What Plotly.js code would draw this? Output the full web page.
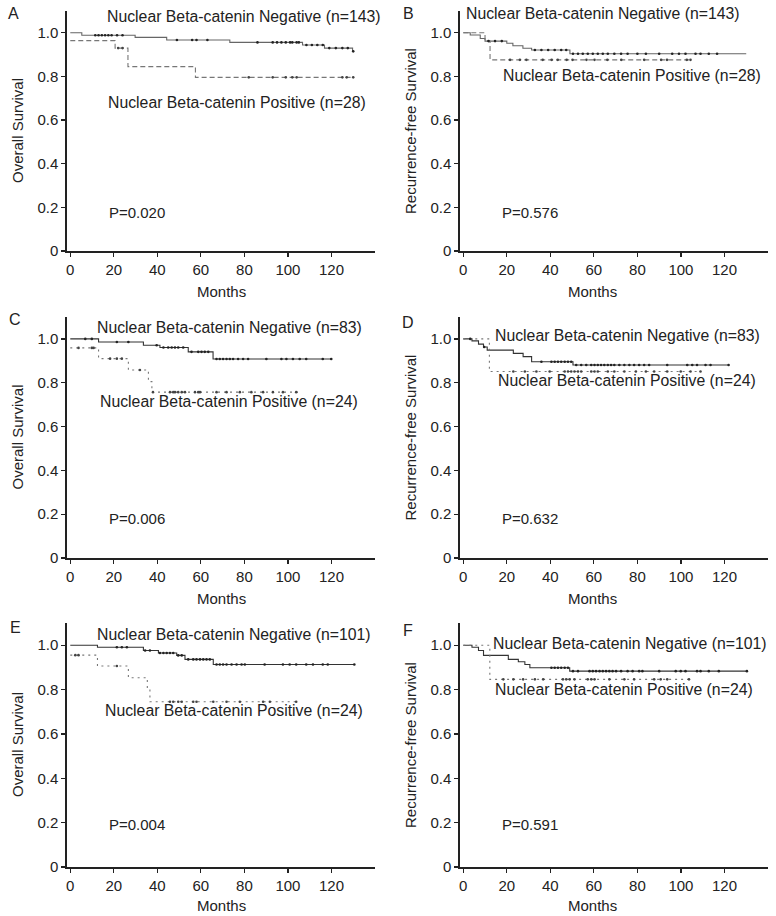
<!DOCTYPE html>
<html>
<head>
<meta charset="utf-8">
<script src="https://cdn.plot.ly/plotly-3.0.1.min.js"></script>
<style>
  body { margin: 0; background: #fff; }
  #chart { width: 776px; height: 916px; }
</style>
</head>
<body>
<div id="chart"></div>
<script>
// step curves: time of each step (months) and survival after it
let aNegT = [0, 5.3, 29.8, 44.3, 73.3, 106.7, 116.8, 129.7, 130];
let aNegS = [1, 0.989, 0.979, 0.967, 0.956, 0.944, 0.930, 0.915, 0.915];
let aPosT = [0, 20.6, 26.5, 57.5, 130];
let aPosS = [0.964, 0.930, 0.845, 0.796, 0.796];
let aNegC = [11.5, 13, 14.5, 16, 17.5, 19, 21.5, 24, 49, 56, 58, 63, 86, 93, 95, 97, 99, 101, 102, 104, 105, 108.5, 111, 113.5, 116, 119, 122, 125, 127.5, 130];
let aPosC = [22, 24, 82, 93, 99, 102, 104, 125, 127, 130];

let bNegT = [0, 3.2, 7.8, 10, 20, 22.8, 27.4, 31.4, 49, 130];
let bNegS = [1, 0.990, 0.974, 0.962, 0.952, 0.941, 0.929, 0.921, 0.904, 0.904];
let bPosT = [0, 10, 12.3, 104.4];
let bPosS = [1, 0.962, 0.876, 0.876];
let bNegC = [11.6, 14.6, 17.7, 32.9, 35.9, 39, 42, 45, 47.3, 50.4, 52.7, 54.9, 57.2, 59.5, 61.8, 64.1, 66.4, 69.4, 72.5, 75.5, 80, 83.9, 90, 96, 99.1, 102.1, 106.7, 109, 112.8, 116.6];
let bPosC = [21.5, 26, 29, 36.5, 40.6, 43.4, 47.5, 50.2, 56.6, 60.3, 66.2, 72.6, 83.1, 90.9, 93.6, 102.7, 104.4];

let cNegT = [0, 13, 33.6, 41.2, 54.2, 65.6, 120];
let cNegS = [1, 0.986, 0.971, 0.961, 0.941, 0.908, 0.908];
let cPosT = [0, 13, 26.7, 35.9, 37.5, 104.6];
let cPosS = [0.959, 0.910, 0.858, 0.805, 0.757, 0.757];
let cNegC = [6.9, 9.9, 21.4, 26.7, 39.7, 42.8, 45, 46.6, 48.1, 49.6, 51.9, 55.7, 58.8, 60.3, 61.8, 63.4, 67.2, 68.7, 70.2, 71.8, 73.3, 74.8, 77.1, 79.4, 81.7, 90.1, 97, 99.3, 102.3, 105.4, 108.4, 116, 119.9];
let cPosC = [3.8, 9.9, 10.7, 18.3, 21.4, 23.7, 32, 38, 45.8, 47.3, 48.1, 49.6, 51.2, 52.7, 57.3, 58.8, 59.6, 67.2, 71.8, 77.9, 83.2, 88.6, 93.1, 97.7, 103.8];

let dNegT = [0, 4, 7, 9.3, 11, 23, 27.5, 31.4, 50.4, 122];
let dNegS = [1, 0.991, 0.976, 0.963, 0.949, 0.934, 0.919, 0.896, 0.881, 0.881];
let dPosT = [0, 12, 109];
let dPosS = [1, 0.851, 0.851];
let dNegC = [3.2, 9.6, 35.9, 40.5, 42, 43.5, 45, 46.6, 48.1, 49.6, 51.9, 54.2, 56.5, 58.8, 60.3, 61.8, 63.3, 64.8, 66.4, 67.9, 69.4, 71.7, 74, 76.3, 78.5, 80.8, 83.1, 85.4, 93.7, 102.9, 105.2, 107.4, 111.3, 113.6, 121.9];
let dPosC = [23, 28.3, 33.6, 39.7, 46.6, 48.1, 49.6, 51.1, 52.7, 54.2, 58.8, 60.3, 61.8, 66.4, 69.4, 74, 79.3, 83.9, 87.7, 93.7, 99.9, 104.4, 109];

let eNegT = [0, 12.5, 33.6, 40.5, 48.9, 52.7, 65.7, 130.5];
let eNegS = [1, 0.991, 0.976, 0.965, 0.954, 0.936, 0.913, 0.913];
let ePosT = [0, 12.5, 26.7, 35.4, 36.6, 103.8];
let ePosS = [0.955, 0.906, 0.853, 0.801, 0.745, 0.745];
let eNegC = [21.4, 23.7, 26, 34.4, 36.6, 41.2, 42.8, 44.3, 45.8, 47.3, 49.6, 51.2, 54.2, 56.5, 58, 59.6, 61.1, 62.6, 64.1, 67.2, 68.7, 70.2, 71.8, 74.1, 76.4, 78.7, 80.2, 89.3, 97.7, 100.8, 103.8, 108.4, 111.5, 116, 118.3, 130.5];
let ePosC = [2.3, 3.8, 21.4, 45.8, 47.3, 49.6, 51.2, 56.5, 58, 65.7, 71.8, 77.9, 88.6, 91.7, 103.8];

let fNegT = [0, 4, 7, 9.3, 20.7, 25.3, 28.3, 30.6, 48.9, 130.3];
let fNegS = [1, 0.991, 0.976, 0.954, 0.936, 0.925, 0.913, 0.898, 0.883, 0.883];
let fPosT = [0, 12.2, 104];
let fPosS = [1, 0.846, 0.846];
let fNegC = [40.5, 42, 43.5, 45, 46.6, 48.1, 50.4, 52.7, 58, 59.5, 61, 62.6, 64.1, 65.6, 67.1, 68.6, 70.2, 72.5, 75.5, 77.8, 80.8, 82.3, 90, 97.6, 99.9, 102.1, 107.4, 109, 112.8, 117.4, 130.3];
let fPosC = [18.4, 23, 27.5, 32.9, 36.7, 45.8, 47.3, 48.9, 51.1, 57.2, 58.8, 60.3, 67.1, 74, 78.5, 87.7, 90.7, 93.7, 103.7];

let panelLetters = ['A', 'B', 'C', 'D', 'E', 'F'];
let yTitles = ['Overall Survival', 'Recurrence-free Survival', 'Overall Survival', 'Recurrence-free Survival', 'Overall Survival', 'Recurrence-free Survival'];
let negLabels = ['Nuclear Beta-catenin Negative (n=143)', 'Nuclear Beta-catenin Negative (n=143)', 'Nuclear Beta-catenin Negative (n=83)', 'Nuclear Beta-catenin Negative (n=83)', 'Nuclear Beta-catenin Negative (n=101)', 'Nuclear Beta-catenin Negative (n=101)'];
let posLabels = ['Nuclear Beta-catenin Positive (n=28)', 'Nuclear Beta-catenin Positive (n=28)', 'Nuclear Beta-catenin Positive (n=24)', 'Nuclear Beta-catenin Positive (n=24)', 'Nuclear Beta-catenin Positive (n=24)', 'Nuclear Beta-catenin Positive (n=24)'];
let pValues = ['P=0.020', 'P=0.576', 'P=0.006', 'P=0.632', 'P=0.004', 'P=0.591'];
let xTicks = [0, 20, 40, 60, 80, 100, 120];
let yTicks = [0, 0.2, 0.4, 0.6, 0.8, 1.0];
let yTickText = ['0', '0.2', '0.4', '0.6', '0.8', '1.0'];

let curves = [
    [aNegT, aNegS, aNegC, aPosT, aPosS, aPosC],
    [bNegT, bNegS, bNegC, bPosT, bPosS, bPosC],
    [cNegT, cNegS, cNegC, cPosT, cPosS, cPosC],
    [dNegT, dNegS, dNegC, dPosT, dPosS, dPosC],
    [eNegT, eNegS, eNegC, ePosT, ePosS, ePosC],
    [fNegT, fNegS, fNegC, fPosT, fPosS, fPosC]
];

// survival at time t from a step curve
function stepAt(T, S, t) {
    let v = S[0];
    for (let i = 0; i < T.length; i++) {
        if (T[i] <= t) v = S[i];
    }
    return v;
}

const W = 776, H = 916;
let fx = p => p / W;
let fy = p => 1 - p / H;

// pixel boxes of each plot area: left, right / top, bottom
let colsPx = [[67, 375], [460, 768]];
let rowsPx = [[11, 251], [317, 558], [623, 867]];

let fontFam = 'Liberation Sans, Arial, sans-serif';
let textCol = '#222';

let data = [];
let layout = {
    width: W, height: H,
    margin: { l: 0, r: 0, t: 0, b: 0 },
    paper_bgcolor: '#fff', plot_bgcolor: '#fff',
    showlegend: false,
    font: { family: fontFam, size: 15, color: textCol },
    annotations: []
};

// text positions in pixels: [x, y]
let letterPos = [[14, 14], [408, 13], [15, 320], [408, 322], [15, 627], [408, 630]];
let negPos = [[105, 16], [464, 13], [95, 328], [493, 335], [95, 634], [491, 643]];
let posPos = [[106, 103], [501, 76], [98, 401], [496, 381], [103, 710], [493, 689]];
let pPos = [[107, 212], [500, 212], [107, 518], [500, 518], [107, 824], [500, 824]];
let xTitleX = [221, 592];
let xTitleY = [292, 598, 905];
let yTitleX = [17, 410];

for (let k = 0; k < 6; k++) {
    let col = k % 2, row = Math.floor(k / 2);
    let n = k + 1;
    let xa = 'x' + (n === 1 ? '' : n), ya = 'y' + (n === 1 ? '' : n);
    let [nT, nS, nC, pT, pS, pC] = curves[k];
    let posDash = row === 0 ? '5px,3px' : '2px,4px';

    data.push({ x: nT, y: nS, xaxis: xa, yaxis: ya, type: 'scatter', mode: 'lines',
        line: { shape: 'hv', color: row === 0 ? '#666' : '#333', width: 1.1 } });
    data.push({ x: pT, y: pS, xaxis: xa, yaxis: ya, type: 'scatter', mode: 'lines',
        line: { shape: 'hv', color: '#777', width: 1.1, dash: posDash } });
    data.push({ x: nC, y: nC.map(t => stepAt(nT, nS, t)), xaxis: xa, yaxis: ya, type: 'scatter', mode: 'markers',
        marker: { symbol: 'circle', size: 2.6, color: '#222', line: { width: 0 } } });
    data.push({ x: pC, y: pC.map(t => stepAt(pT, pS, t)), xaxis: xa, yaxis: ya, type: 'scatter', mode: 'markers',
        marker: { symbol: 'circle', size: 2.6, color: '#444', line: { width: 0 } } });

    let common = {
        showline: true, linecolor: '#222', linewidth: 1.6,
        ticks: 'outside', ticklen: 4, tickwidth: 1.2, tickcolor: '#222',
        showgrid: false, zeroline: false,
        tickfont: { family: fontFam, size: 15, color: textCol }
    };
    layout['xaxis' + (n === 1 ? '' : n)] = Object.assign({}, common, {
        domain: [fx(colsPx[col][0]), fx(colsPx[col][1])],
        anchor: ya, range: [-1.5, 140], tickvals: xTicks
    });
    layout['yaxis' + (n === 1 ? '' : n)] = Object.assign({}, common, {
        domain: [fy(rowsPx[row][1]), fy(rowsPx[row][0])],
        anchor: xa, range: [0, 1.1], tickvals: yTicks, ticktext: yTickText
    });

    let ann = layout.annotations;
    ann.push({ text: panelLetters[k], xref: 'paper', yref: 'paper', x: fx(letterPos[k][0]), y: fy(letterPos[k][1]),
        xanchor: 'center', yanchor: 'middle', showarrow: false, font: { size: 16 } });
    ann.push({ text: negLabels[k], xref: 'paper', yref: 'paper', x: fx(negPos[k][0]), y: fy(negPos[k][1]),
        xanchor: 'left', yanchor: 'middle', showarrow: false, font: { size: 15.8 } });
    ann.push({ text: posLabels[k], xref: 'paper', yref: 'paper', x: fx(posPos[k][0]), y: fy(posPos[k][1]),
        xanchor: 'left', yanchor: 'middle', showarrow: false, font: { size: 15.8 } });
    ann.push({ text: pValues[k], xref: 'paper', yref: 'paper', x: fx(pPos[k][0]), y: fy(pPos[k][1]),
        xanchor: 'left', yanchor: 'middle', showarrow: false, font: { size: 15 } });
    ann.push({ text: 'Months', xref: 'paper', yref: 'paper', x: fx(xTitleX[col]), y: fy(xTitleY[row]),
        xanchor: 'center', yanchor: 'middle', showarrow: false, font: { size: 15 } });
    ann.push({ text: yTitles[k], xref: 'paper', yref: 'paper', textangle: -90,
        x: fx(yTitleX[col]), y: fy((rowsPx[row][0] + rowsPx[row][1]) / 2),
        xanchor: 'center', yanchor: 'middle', showarrow: false, font: { size: 15 } });
}

Plotly.newPlot('chart', data, layout, { staticPlot: true });
</script>
</body>
</html>
